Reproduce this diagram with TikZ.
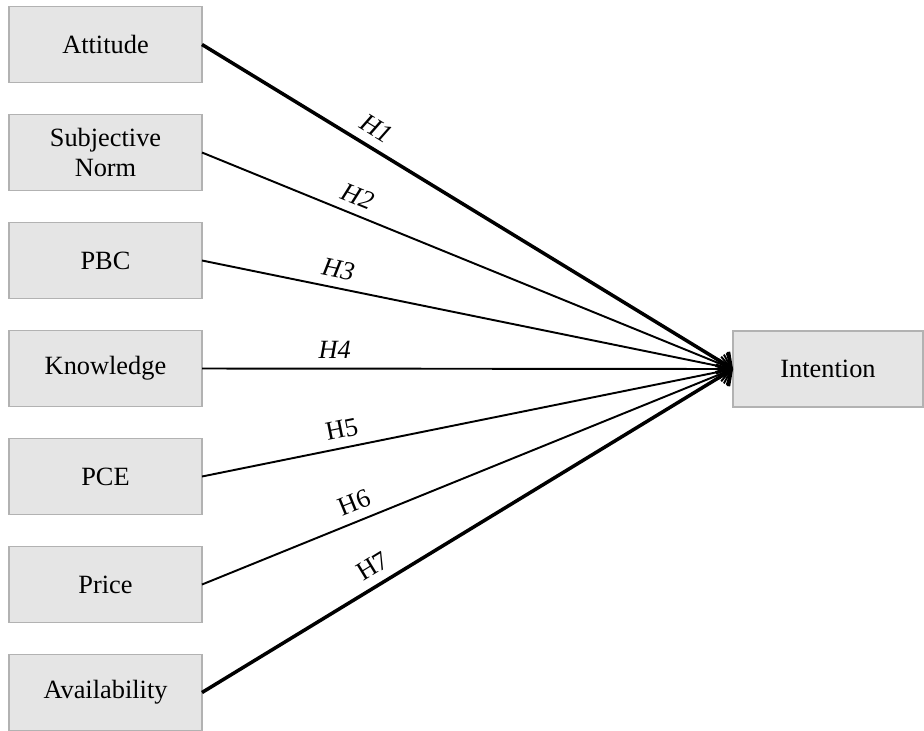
\documentclass[tikz,border=0pt]{standalone}
\usepackage{fontspec}
\setmainfont{Liberation Serif}
\usetikzlibrary{positioning,arrows.meta}

\begin{document}
\begin{tikzpicture}[
    factor/.style={draw=black!30, fill=black!10, line width=1pt, minimum width=3.86cm,
        minimum height=1.52cm, inner sep=0pt, outer sep=0pt, align=center,
        font=\fontsize{15}{17}\selectfont},
    link/.style={line width=1.1pt, -{Straight Barb[length=6pt,width=14pt]}},
    boldlink/.style={link, line width=2pt},
    hyp/.style={above=4pt, sloped, inner sep=1pt, font=\fontsize{15}{17}\selectfont}
]
    % Page frame
    \useasboundingbox (0,0) rectangle (18.48,-14.6);

    % Predictors
    \node[factor] (att) at (2.11,-0.89) {Attitude};
    \node[factor, below=0.64cm of att] (sn) {Subjective\\Norm};
    \node[factor, below=0.64cm of sn] (pbc) {PBC};
    \node[factor, below=0.64cm of pbc] (know) {Knowledge};
    \node[factor, below=0.64cm of know] (pce) {PCE};
    \node[factor, below=0.64cm of pce] (price) {Price};
    \node[factor, below=0.64cm of price] (avail) {Availability};

    % Outcome
    \node[factor, minimum width=3.8cm] (int) at (16.56,-7.38) {Intention};

    % Hypothesised paths
    \draw[boldlink] (att.east) -- node[hyp, pos=0.31] {\textit{H1}} (int.west);
    \draw[link] (sn.east) -- node[hyp, pos=0.28] {\textit{H2}} (int.west);
    \draw[link] (pbc.east) -- node[hyp, pos=0.25] {\textit{H3}} (int.west);
    \draw[link] (know.east) -- node[hyp, pos=0.25] {\textit{H4}} (int.west);
    \draw[link] (pce.east) -- node[hyp, pos=0.27] {H5} (int.west);
    \draw[link] (price.east) -- node[hyp, pos=0.30] {H6} (int.west);
    \draw[boldlink] (avail.east) -- node[hyp, pos=0.34] {H7} (int.west);
\end{tikzpicture}
\end{document}
